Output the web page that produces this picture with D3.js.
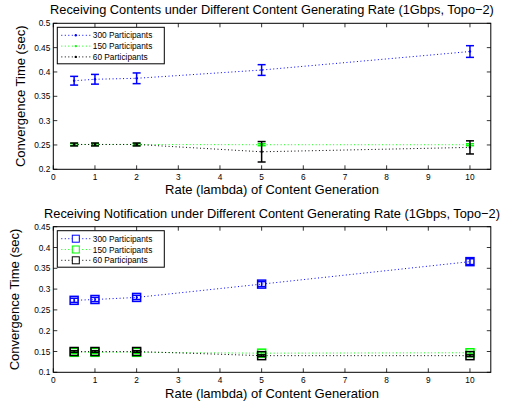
<!DOCTYPE html>
<html><head><meta charset="utf-8">
<script src="https://cdn.jsdelivr.net/npm/d3@7"></script>
<style>body{margin:0;background:#fff}svg{display:block}text{font-family:"Liberation Sans",Arial,sans-serif}</style>
</head><body>
<svg id="c" width="510" height="404"></svg>
<script>
const rates = [0.5, 1, 2, 5, 10];
const seriesNames = ["300 Participants", "150 Participants", "60 Participants"];
const seriesColors = ["#0000ff", "#00ff00", "#000000"];
const xTicks = [0,1,2,3,4,5,6,7,8,9,10];

// Top panel: Receiving Contents
const contents300 = [0.382, 0.385, 0.387, 0.404, 0.442];
const contents300Err = [0.009, 0.010, 0.011, 0.011, 0.012];
const contents150 = [0.251, 0.251, 0.251, 0.2505, 0.2505];
const contents150Err = [0.002, 0.002, 0.002, 0.002, 0.002];
const contents60 = [0.251, 0.251, 0.251, 0.236, 0.245];
const contents60Err = [0.003, 0.003, 0.003, 0.021, 0.0135];
const yTicksTop = [0.2,0.25,0.3,0.35,0.4,0.45,0.5];

// Bottom panel: Receiving Notification
const notif300 = [0.273, 0.275, 0.280, 0.312, 0.366];
const notif300Err = [0.005, 0.005, 0.005, 0.006, 0.007];
const notif150 = [0.148, 0.148, 0.148, 0.146, 0.147];
const notif150Err = [0.003, 0.003, 0.003, 0.003, 0.003];
const notif60 = [0.150, 0.150, 0.150, 0.140, 0.140];
const notif60Err = [0.002, 0.002, 0.002, 0.002, 0.002];
const yTicksBottom = [0.1,0.15,0.2,0.25,0.3,0.35,0.4,0.45];

const svg = d3.select("#c");

function panel(cfg) {
  const x = d3.scaleLinear().domain([0, 10.5]).range([53.3, 490.8]);
  const y = d3.scaleLinear().domain(cfg.yDomain).range([cfg.bottom, cfg.top]);
  const g = svg.append("g");
  g.append("text").attr("x", 272).attr("y", cfg.titleY).attr("text-anchor","middle")
    .attr("font-size", 12.8).text(cfg.title);
  const tl = 4;
  xTicks.forEach(t => {
    const px = x(t);
    g.append("line").attr("x1",px).attr("x2",px).attr("y1",cfg.bottom).attr("y2",cfg.bottom-tl).attr("stroke","#000").attr("stroke-width",0.8);
    g.append("line").attr("x1",px).attr("x2",px).attr("y1",cfg.top).attr("y2",cfg.top+tl).attr("stroke","#000").attr("stroke-width",0.8);
    g.append("text").attr("x",px).attr("y",cfg.bottom+11).attr("text-anchor","middle").attr("font-size",8.3).text(t);
  });
  cfg.yTicks.forEach(t => {
    const py = y(t);
    g.append("line").attr("x1",x.range()[0]).attr("x2",x.range()[0]+tl).attr("y1",py).attr("y2",py).attr("stroke","#000").attr("stroke-width",0.8);
    g.append("line").attr("x1",x.range()[1]).attr("x2",x.range()[1]-tl).attr("y1",py).attr("y2",py).attr("stroke","#000").attr("stroke-width",0.8);
    g.append("text").attr("x",x.range()[0]-3).attr("y",py+3).attr("text-anchor","end").attr("font-size",8.3).text(d3.format("")(t));
  });
  g.append("text").attr("x",272).attr("y",cfg.xLabelY).attr("text-anchor","middle").attr("font-size",13).text("Rate (lambda) of Content Generation");
  g.append("text").attr("transform",`translate(${cfg.yLabelX},${(cfg.top+cfg.bottom)/2}) rotate(-90)`)
    .attr("text-anchor","middle").attr("font-size",13).text("Convergence Time (sec)");

  const line = d3.line().x((d,i)=>x(rates[i])).y(d=>y(d));
  [0,1,2].forEach(si => {
    const vals = cfg.values[si], errs = cfg.errs[si], col = seriesColors[si];
    g.append("path").attr("d", line(vals)).attr("fill","none").attr("stroke",col)
      .attr("stroke-width",1).attr("stroke-dasharray","1,2.5");
    vals.forEach((v,i)=>{
      const px = x(rates[i]);
      const y1 = y(v-errs[i]), y2 = y(v+errs[i]);
      g.append("line").attr("x1",px).attr("x2",px).attr("y1",y1).attr("y2",y2).attr("stroke",col).attr("stroke-width",1.5);
      g.append("line").attr("x1",px-4).attr("x2",px+4).attr("y1",y1).attr("y2",y1).attr("stroke",col).attr("stroke-width",1.5);
      g.append("line").attr("x1",px-4).attr("x2",px+4).attr("y1",y2).attr("y2",y2).attr("stroke",col).attr("stroke-width",1.5);
      if (cfg.marker === "square") {
        g.append("rect").attr("x",px-4).attr("y",y(v)-4).attr("width",8).attr("height",8)
          .attr("fill","none").attr("stroke",col).attr("stroke-width",1.5);
      } else {
        g.append("circle").attr("cx",px).attr("cy",y(v)).attr("r",1.2).attr("fill",col);
      }
    });
  });
  g.append("rect").attr("x",x.range()[0]).attr("y",cfg.top).attr("width",x.range()[1]-x.range()[0])
    .attr("height",cfg.bottom-cfg.top).attr("fill","none").attr("stroke","#000").attr("stroke-width",1);
  const lx = 57.3, ly = cfg.top + 4, lw = 107, lh = 36.5;
  g.append("rect").attr("x",lx).attr("y",ly).attr("width",lw).attr("height",lh).attr("fill","#fff").attr("stroke","#000").attr("stroke-width",1);
  seriesNames.forEach((n,i)=>{
    const yy = ly + 8 + i*10.8;
    g.append("line").attr("x1",lx+4).attr("x2",lx+33).attr("y1",yy).attr("y2",yy).attr("stroke",seriesColors[i])
      .attr("stroke-width",1).attr("stroke-dasharray","1,2.5");
    if (cfg.marker === "square") {
      g.append("rect").attr("x",lx+18.5-3.5).attr("y",yy-3.5).attr("width",7).attr("height",7).attr("fill","#fff").attr("stroke",seriesColors[i]).attr("stroke-width",1);
    } else {
      g.append("circle").attr("cx",lx+18.5).attr("cy",yy).attr("r",1.2).attr("fill",seriesColors[i]);
    }
    g.append("text").attr("x",lx+35.5).attr("y",yy+3).attr("font-size",8.3).text(n);
  });
}

panel({title:"Receiving Contents under Different Content Generating Rate (1Gbps, Topo\u22122)",
  titleY:14, top:23.3, bottom:169.3, yDomain:[0.2,0.5], yTicks:yTicksTop, xLabelY:193.5, yLabelX:24.5,
  values:[contents300, contents150, contents60], errs:[contents300Err, contents150Err, contents60Err], marker:"dot"});
panel({title:"Receiving Notification under Different Content Generating Rate (1Gbps, Topo\u22122)",
  titleY:218, top:226.7, bottom:372.3, yDomain:[0.1,0.45], yTicks:yTicksBottom, xLabelY:397.5, yLabelX:18.5,
  values:[notif300, notif150, notif60], errs:[notif300Err, notif150Err, notif60Err], marker:"square"});
</script>
</body></html>
